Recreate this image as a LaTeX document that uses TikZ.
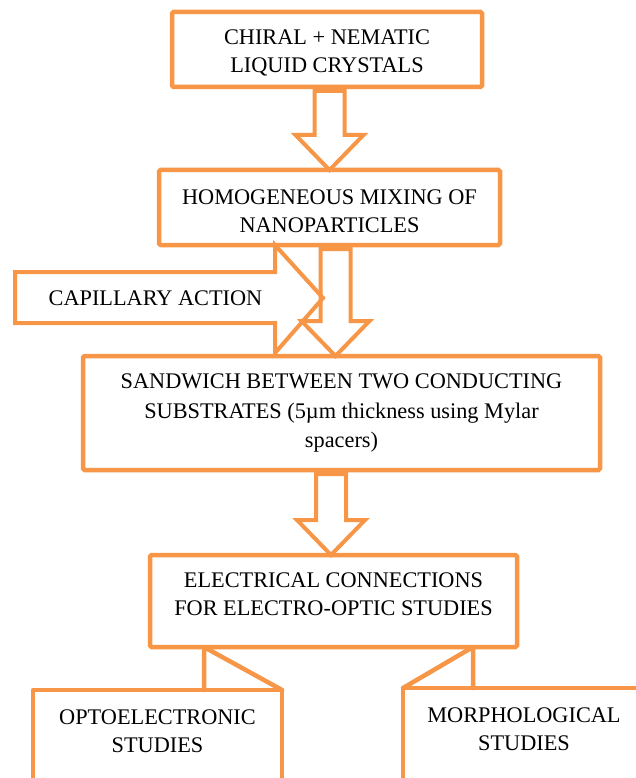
\documentclass[tikz,border=0pt]{standalone}
\usepackage{fontspec}
\setmainfont{Liberation Serif}
\usetikzlibrary{calc}
\definecolor{boxorange}{RGB}{247,150,70}
\tikzset{
  box/.style={
    draw=boxorange,
    line width=4.5pt,
    rounded corners=1.5pt,
    fill=white,
    align=center,
    inner sep=0pt,
    outer sep=0pt,
    font=\fontsize{22.3}{28}\selectfont
  },
  plaintext/.style={align=center, inner sep=0pt, outer sep=0pt, font=\fontsize{22.3}{28}\selectfont},
  edge/.style={draw=boxorange, line width=4.5pt, line join=round, line cap=round},
  hollow/.style={draw=boxorange, line width=4pt, line join=miter}
}
% hollow block arrow pointing down: from node, to node, x offset of its axis
\newcommand{\hollowdown}[3]{%
  \coordinate (shafttop) at ($(#1.south)+(#3,-4)$);
  \coordinate (headtip) at (shafttop |- #2.north);
  \draw[hollow] ($(shafttop)+(-15,0)$) -- ($(headtip)+(-15,35)$) -- ($(headtip)+(-34,35)$) -- (headtip)
    -- ($(headtip)+(34,35)$) -- ($(headtip)+(15,35)$) -- ($(shafttop)+(15,0)$) -- cycle;
}

\begin{document}
\begin{tikzpicture}[x=1pt, y=1pt]
  \useasboundingbox (0,0) rectangle (636,-778);
  \clip (0,0) rectangle (636,-778);
  \node[box, minimum width=310, minimum height=75, text height=49pt] (chiral) at (327,-49.5) {CHIRAL + NEMATIC\\LIQUID CRYSTALS};
  \node[box, minimum width=341, minimum height=75, text height=51pt] (mixing) at (329.5,-207.5) {HOMOGENEOUS MIXING OF\\NANOPARTICLES};
  \node[box, minimum width=517, minimum height=114, font=\fontsize{22.3}{29.5}\selectfont] (sandwich) at (341.5,-413) {SANDWICH BETWEEN TWO CONDUCTING\\SUBSTRATES (5µm thickness using Mylar\\spacers)};
  \node[box, minimum width=367, minimum height=92, text depth=14pt] (electrical) at (333.5,-601) {ELECTRICAL CONNECTIONS\\FOR ELECTRO-OPTIC STUDIES};
  \node[plaintext, minimum width=249, minimum height=82] (opto) at (157.5,-731) {OPTOELECTRONIC\\STUDIES};
  \node[plaintext, minimum width=242, minimum height=83] (morpho) at (524,-729.5) {MORPHOLOGICAL\\STUDIES};
  \node[plaintext] (capillary) at (155.5,-298) {CAPILLARY ACTION};

  \hollowdown{chiral}{mixing}{2.5}
  \hollowdown{mixing}{sandwich}{6}
  \hollowdown{sandwich}{electrical}{-10.5}

  % capillary arrow
  \coordinate (captail) at (15,-298);
  \coordinate (captip) at (323,-298);
  \draw[hollow] ($(captail)+(0,26)$) -- ($(captip)+(-48,26)$) -- ($(captip)+(-48,53)$) -- (captip)
    -- ($(captip)+(-48,-55)$) -- ($(captip)+(-48,-25)$) -- ($(captail)+(0,-25)$) -- cycle;

  % bottom boxes with callouts
  \draw[edge] ($(opto.south west)+(0,-30)$) -- (opto.north west) -- (opto.north east) -- ($(opto.south east)+(0,-30)$);
  \draw[edge] ($(morpho.south west)+(0,-30)$) -- (morpho.north west) -- (morpho.north east) -- ($(morpho.south east)+(0,-30)$);
  \coordinate (optobase) at ($(opto.north east)+(-78,0)$);
  \coordinate (morphobase) at ($(morpho.north west)+(70,0)$);
  \draw[edge] (optobase) -- (optobase |- electrical.south) -- (opto.north east);
  \draw[edge] (morphobase) -- (morphobase |- electrical.south) -- (morpho.north west);
\end{tikzpicture}
\end{document}
